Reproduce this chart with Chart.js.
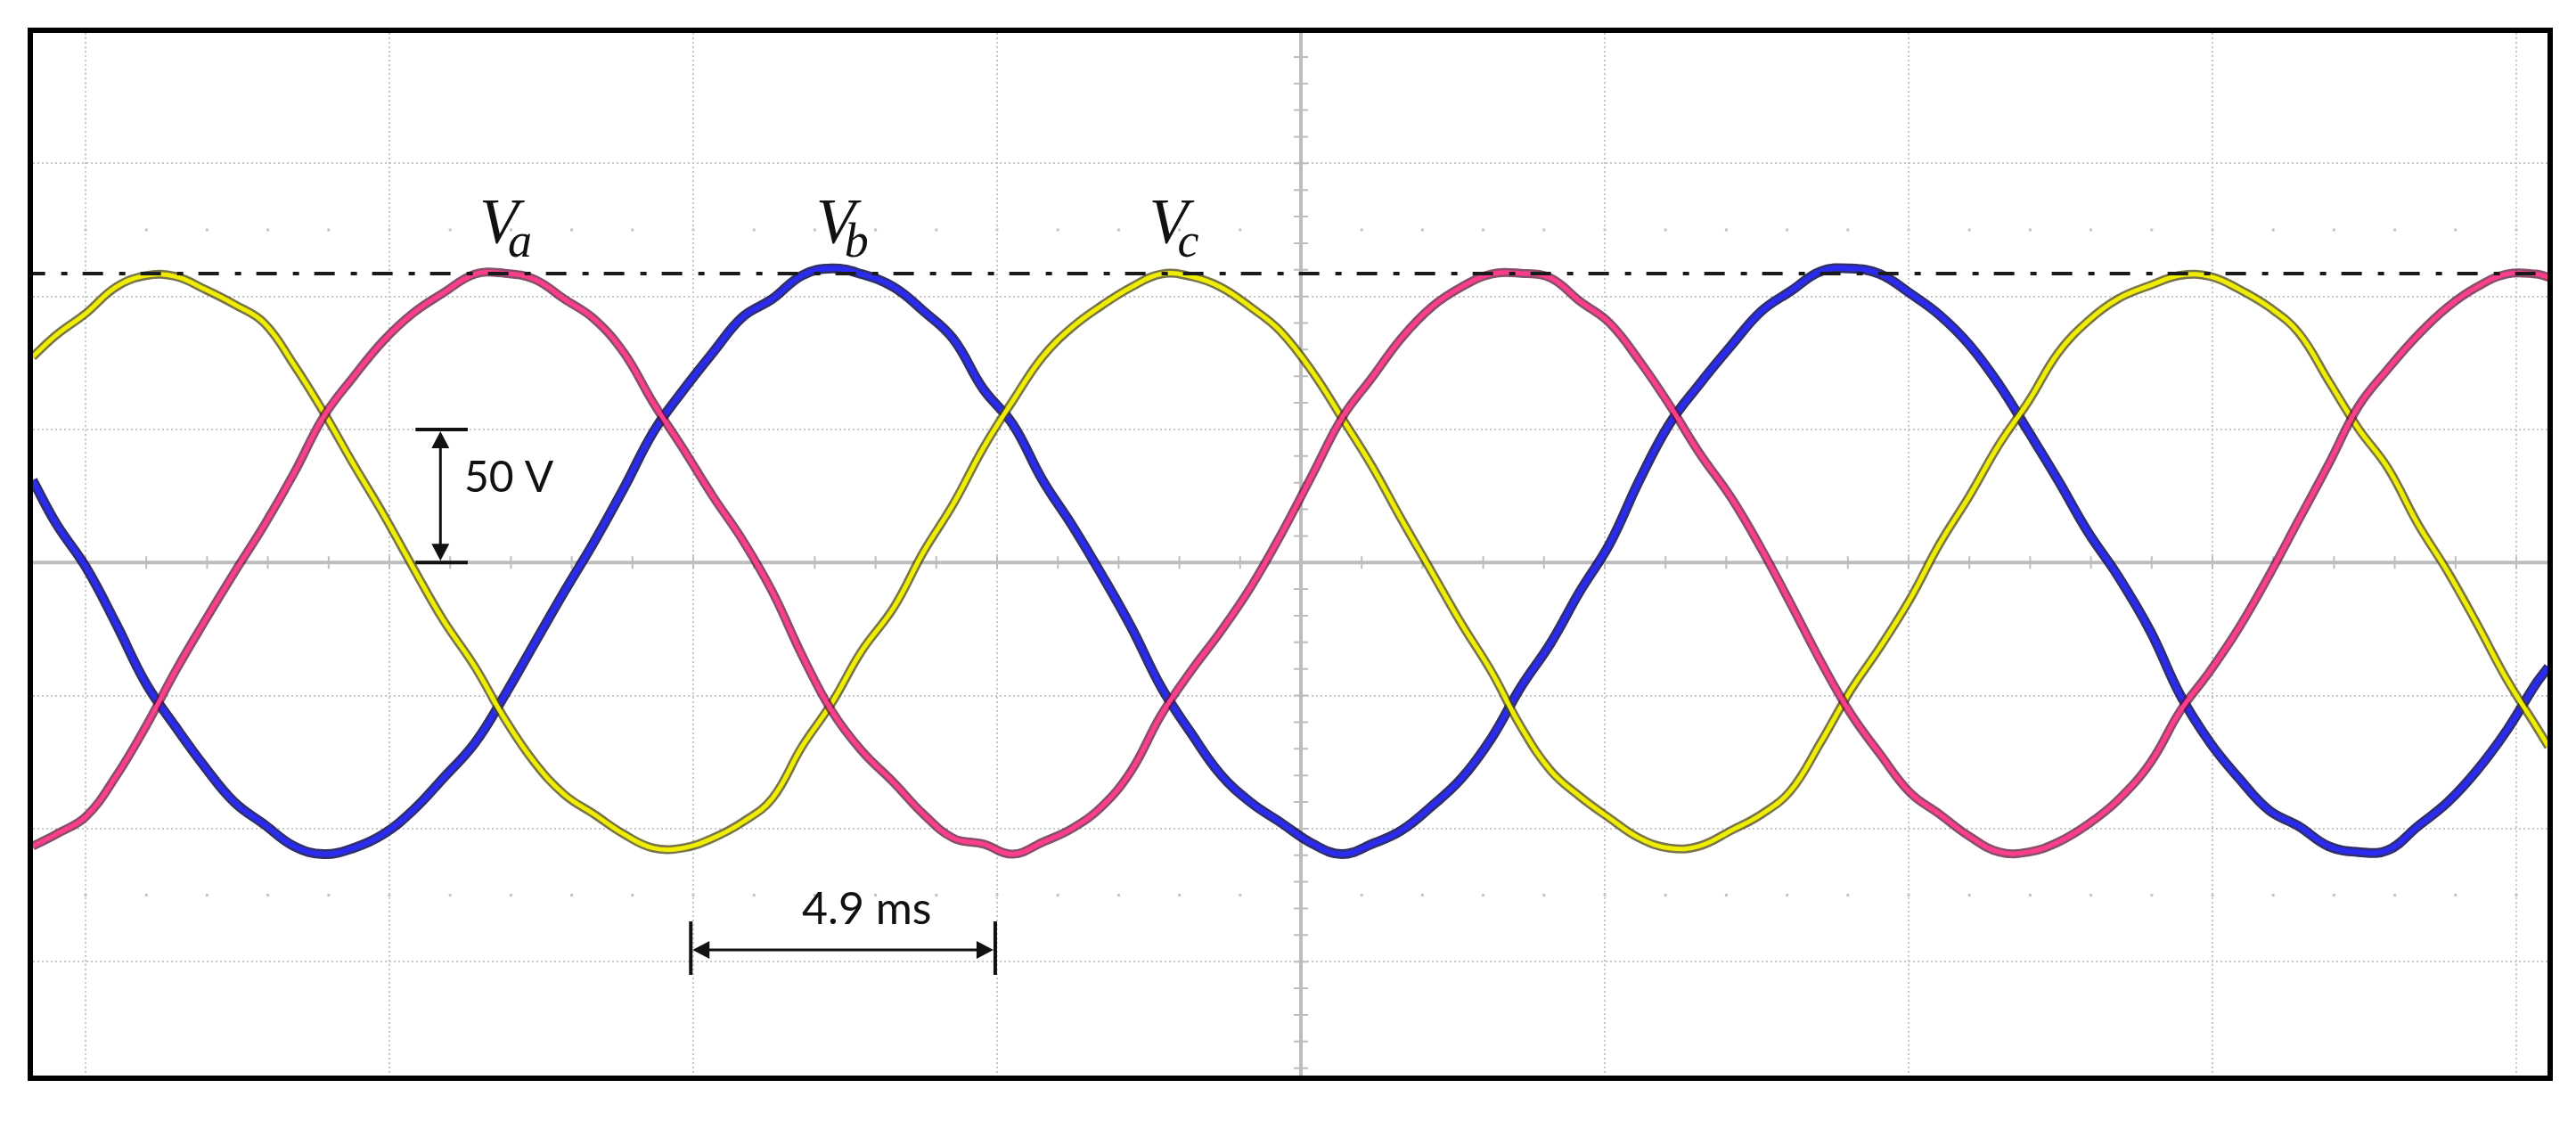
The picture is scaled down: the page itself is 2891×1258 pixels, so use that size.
<!DOCTYPE html>
<html>
<head>
<meta charset="utf-8">
<script src="https://cdn.jsdelivr.net/npm/chart.js@4.4.1/dist/chart.umd.min.js"></script>
<style>
  html, body { margin: 0; padding: 0; background: #fff; }
  #contenedor { width: 2891px; height: 1258px; position: relative; }
</style>
</head>
<body>
<div id="contenedor"><canvas id="osciloscopio"></canvas></div>
<script>
// Tiempo en ms (5 ms por division), tensiones en V (50 V por division)
const tiempo = [
  -20.87, -20.48, -19.99, -19.50, -19.01, -18.52, -18.04, -17.55, -17.06, -16.57, -16.08, -15.59, -15.10, -14.61, -14.12,
  -13.59, -13.10, -12.61, -12.12, -11.63, -11.14, -10.66, -10.17, -9.68, -9.19, -8.70, -8.21, -7.72, -7.23,
  -6.70, -6.21, -5.72, -5.23, -4.74, -4.25, -3.76, -3.27, -2.79, -2.30, -1.81, -1.32, -0.83, -0.34,
  0.20, 0.68, 1.17, 1.66, 2.15, 2.64, 3.13, 3.62, 4.11, 4.59, 5.08, 5.57, 6.06, 6.55,
  7.09, 7.58, 8.06, 8.55, 9.04, 9.53, 10.02, 10.51, 11.00, 11.49, 11.98, 12.46, 12.95, 13.44,
  13.98, 14.47, 14.96, 15.44, 15.93, 16.42, 16.91, 17.40, 17.89, 18.38, 18.87, 19.35, 19.84, 20.33, 20.53
];

const va = [
  -106.6, -102.1, -95.4, -80.4, -61.7, -40.8, -22.1, -3.7, 14.0, 33.5, 54.9, 69.8, 83.3, 93.7, 101.2,
  108.4, 108.7, 106.4, 99.0, 91.5, 78.8, 60.1, 42.9, 25.0, 8.5, -10.9, -34.8, -55.8, -70.7,
  -82.7, -94.6, -103.6, -105.8, -109.6, -105.1, -99.9, -91.6, -78.2, -57.3, -40.8, -25.9, -9.4, 10.0,
  33.5, 54.5, 69.5, 84.5, 96.0, 103.5, 108.4, 108.7, 106.9, 98.2, 90.0, 75.8, 59.4, 41.4,
  24.0, 5.0, -15.5, -37.0, -56.5, -72.0, -86.4, -94.6, -102.9, -108.8, -108.8, -105.1, -98.4, -89.4,
  -75.2, -55.8, -40.8, -24.4, -4.9, 16.0, 36.9, 58.6, 72.8, 85.5, 96.0, 103.5, 108.4, 108.4, 107.2
];

const vb = [
  30.9, 14.5, -1.9, -22.9, -45.3, -61.7, -76.7, -90.1, -98.4, -106.6, -109.6, -107.3, -102.1, -93.1, -81.2,
  -67.7, -49.8, -30.3, -10.9, 7.8, 28.0, 48.9, 64.6, 78.8, 92.2, 99.0, 107.9, 110.5, 108.4,
  103.5, 94.5, 84.0, 65.3, 51.9, 30.9, 13.8, -4.9, -24.4, -46.8, -64.0, -79.7, -90.1, -97.6,
  -105.8, -109.6, -105.8, -100.6, -91.6, -81.2, -66.2, -46.8, -30.3, -10.9, 7.0, 30.9, 51.9, 66.8,
  81.8, 94.5, 102.0, 109.4, 110.5, 108.4, 101.2, 93.0, 81.8, 66.8, 48.9, 30.9, 11.5, -4.9,
  -25.9, -49.8, -67.7, -81.2, -93.1, -99.1, -106.6, -108.8, -108.1, -99.1, -90.1, -78.2, -63.2, -45.3, -39.3
];

const vc = [
  77.3, 85.5, 93.7, 103.5, 107.8, 107.5, 102.7, 97.0, 90.0, 74.3, 56.4, 36.9, 18.2, -1.9, -21.4,
  -39.3, -58.8, -75.2, -87.2, -94.6, -102.1, -107.3, -107.3, -103.6, -97.6, -88.7, -69.2, -52.8, -33.3,
  -16.9, 4.0, 22.0, 42.9, 60.8, 77.3, 88.5, 96.7, 103.5, 108.4, 107.5, 103.5, 96.0, 87.0,
  71.3, 54.1, 36.2, 16.0, -3.4, -22.9, -40.8, -61.7, -78.2, -87.9, -96.1, -103.6, -107.3, -106.6,
  -100.6, -94.6, -85.7, -67.7, -48.3, -31.8, -13.9, 7.0, 25.0, 44.4, 60.8, 78.8, 90.7, 99.0,
  104.2, 107.9, 107.5, 102.7, 96.0, 86.3, 68.3, 50.4, 35.4, 14.5, -3.4, -22.9, -43.8, -61.7, -69.2
];

const picoReferencia = 108.6;   // linea de trazo y punto
const puntosV = [125, -125];    // filas de puntos de la reticula
const fases = ['a', 'b', 'c'];

// posiciones de las anotaciones en unidades de los ejes (ms, V)
const posEtiquetas = [
  { t: -13.52, v: 120.3 },
  { t: -7.98, v: 120.3 },
  { t: -2.50, v: 120.3 }
];
const flecha50V = { t: -14.16, desde: 50, hasta: 0, barraIzq: -14.57, barraDer: -13.71, texto: '50 V', tTexto: -13.77, vTexto: 31.6 };
const flechaTiempo = { v: -145.6, desde: -10.04, hasta: -5.03, texto: '4.9 ms', tTexto: -8.21, vTexto: -135.9 };

function puntos(valores) {
  return tiempo.map((t, i) => ({ x: t, y: valores[i] }));
}

function punta(ctx, x, y, dx, dy) {
  // triangulo relleno con la punta en (x, y) mirando hacia (dx, dy)
  const largo = 19, ancho = 10;
  const bx = x - dx * largo, by = y - dy * largo;
  ctx.beginPath();
  ctx.moveTo(x, y);
  ctx.lineTo(bx - dy * ancho, by + dx * ancho);
  ctx.lineTo(bx + dy * ancho, by - dx * ancho);
  ctx.closePath();
  ctx.fill();
}

const reticula = {
  id: 'reticula',
  beforeDatasetsDraw(chart) {
    const { ctx, chartArea: a, scales: { x, y } } = chart;
    const x0 = x.getPixelForValue(0);
    const y0 = y.getPixelForValue(0);
    ctx.save();
    // puntos a +-2.5 divisiones
    ctx.fillStyle = '#c4c4c4';
    puntosV.forEach(v => {
      const py = y.getPixelForValue(v);
      for (let t = Math.ceil(x.min); t <= x.max; t++) {
        ctx.fillRect(x.getPixelForValue(t) - 1.5, py - 1.5, 3, 3);
      }
    });
    // ejes centrales con sus marcas
    ctx.strokeStyle = '#bdbdbd';
    ctx.lineWidth = 4;
    ctx.beginPath();
    ctx.moveTo(a.left, y0); ctx.lineTo(a.right, y0);
    ctx.moveTo(x0, a.top); ctx.lineTo(x0, a.bottom);
    ctx.stroke();
    ctx.lineWidth = 2;
    ctx.beginPath();
    for (let t = Math.ceil(x.min); t <= x.max; t++) {
      const px = x.getPixelForValue(t);
      ctx.moveTo(px, y0 - 7); ctx.lineTo(px, y0 + 7);
    }
    for (let v = Math.ceil(y.min / 10) * 10; v <= y.max; v += 10) {
      const py = y.getPixelForValue(v);
      ctx.moveTo(x0 - 8, py); ctx.lineTo(x0 + 8, py);
    }
    ctx.stroke();
    ctx.restore();
  },
  afterDraw(chart) {
    const { ctx, chartArea: a, scales: { x, y } } = chart;
    ctx.save();

    // etiquetas Va, Vb, Vc
    ctx.fillStyle = '#111';
    ctx.textBaseline = 'alphabetic';
    fases.forEach((f, i) => {
      const px = x.getPixelForValue(posEtiquetas[i].t);
      const py = y.getPixelForValue(posEtiquetas[i].v);
      ctx.font = 'italic 72px "Liberation Serif"';
      ctx.fillText('V', px, py);
      const anchoV = ctx.measureText('V').width;
      ctx.font = 'italic 54px "Liberation Serif"';
      ctx.fillText(f, px + anchoV - 12, py + 16);
    });

    // flecha vertical de 50 V
    ctx.strokeStyle = '#111';
    ctx.fillStyle = '#111';
    const fx = x.getPixelForValue(flecha50V.t);
    const fy1 = y.getPixelForValue(flecha50V.desde);
    const fy2 = y.getPixelForValue(flecha50V.hasta);
    ctx.lineWidth = 4;
    ctx.beginPath();
    ctx.moveTo(x.getPixelForValue(flecha50V.barraIzq), fy1); ctx.lineTo(x.getPixelForValue(flecha50V.barraDer), fy1);
    ctx.moveTo(x.getPixelForValue(flecha50V.barraIzq), fy2); ctx.lineTo(x.getPixelForValue(flecha50V.barraDer), fy2);
    ctx.stroke();
    ctx.lineWidth = 3;
    ctx.beginPath();
    ctx.moveTo(fx, fy1 + 10); ctx.lineTo(fx, fy2 - 10);
    ctx.stroke();
    punta(ctx, fx, fy1 + 2, 0, -1);
    punta(ctx, fx, fy2 - 2, 0, 1);
    ctx.font = '48px Lato';
    ctx.textBaseline = 'middle';
    ctx.fillText(flecha50V.texto, x.getPixelForValue(flecha50V.tTexto), y.getPixelForValue(flecha50V.vTexto));

    // flecha horizontal de 4.9 ms
    const hy = y.getPixelForValue(flechaTiempo.v);
    const hx1 = x.getPixelForValue(flechaTiempo.desde);
    const hx2 = x.getPixelForValue(flechaTiempo.hasta);
    ctx.lineWidth = 4;
    ctx.beginPath();
    ctx.moveTo(hx1, hy - 32); ctx.lineTo(hx1, hy + 28);
    ctx.moveTo(hx2, hy - 32); ctx.lineTo(hx2, hy + 28);
    ctx.stroke();
    ctx.lineWidth = 3;
    ctx.beginPath();
    ctx.moveTo(hx1 + 10, hy); ctx.lineTo(hx2 - 10, hy);
    ctx.stroke();
    punta(ctx, hx1 + 2, hy, -1, 0);
    punta(ctx, hx2 - 2, hy, 1, 0);
    ctx.font = '50px Lato';
    ctx.textBaseline = 'alphabetic';
    ctx.fillText(flechaTiempo.texto, x.getPixelForValue(flechaTiempo.tTexto), y.getPixelForValue(flechaTiempo.vTexto));

    // marco negro
    ctx.strokeStyle = '#000';
    ctx.lineWidth = 6;
    ctx.strokeRect(a.left - 3, a.top - 3, a.right - a.left + 6, a.bottom - a.top + 6);
    ctx.restore();
  }
};

const ctxOsc = document.getElementById('osciloscopio').getContext('2d');

new Chart(ctxOsc, {
  type: 'line',
  data: {
    datasets: [
      {
        label: 'referencia',
        data: [{ x: tiempo[0], y: picoReferencia }, { x: tiempo[tiempo.length - 1], y: picoReferencia }],
        borderColor: '#1a1a1a',
        borderWidth: 4,
        borderDash: [23, 18, 7, 17],
        borderDashOffset: 9,
        tension: 0
      },
      { label: 'Va', data: puntos(va), borderColor: '#ff3d8c', borderWidth: 5 },
      { label: 'Va borde', data: puntos(va), borderColor: 'rgba(95,20,55,0.75)', borderWidth: 10 },
      { label: 'Vc', data: puntos(vc), borderColor: '#f0ee00', borderWidth: 5 },
      { label: 'Vc borde', data: puntos(vc), borderColor: 'rgba(75,70,10,0.75)', borderWidth: 10 },
      { label: 'Vb', data: puntos(vb), borderColor: '#2b2bf0', borderWidth: 6 },
      { label: 'Vb borde', data: puntos(vb), borderColor: 'rgba(10,10,80,0.85)', borderWidth: 11 }
    ]
  },
  options: {
    responsive: true,
    maintainAspectRatio: false,
    animation: false,
    layout: { padding: { left: 37, top: 37, right: 32, bottom: 51 } },
    elements: {
      point: { radius: 0 },
      line: { tension: 0.4, fill: false }
    },
    plugins: {
      legend: { display: false },
      tooltip: { enabled: false }
    },
    scales: {
      x: {
        type: 'linear',
        min: -20.865,
        max: 20.513,
        ticks: { display: false, stepSize: 5, includeBounds: false },
        grid: { color: '#c8c8c8', lineWidth: 2, drawTicks: false, tickLength: 0 },
        border: { display: false, dash: [2, 3] }
      },
      y: {
        min: -192.8,
        max: 199.0,
        ticks: { display: false, stepSize: 50, includeBounds: false },
        grid: { color: '#c8c8c8', lineWidth: 2, drawTicks: false, tickLength: 0 },
        border: { display: false, dash: [2, 3] }
      }
    }
  },
  plugins: [reticula]
});
</script>
</body>
</html>
